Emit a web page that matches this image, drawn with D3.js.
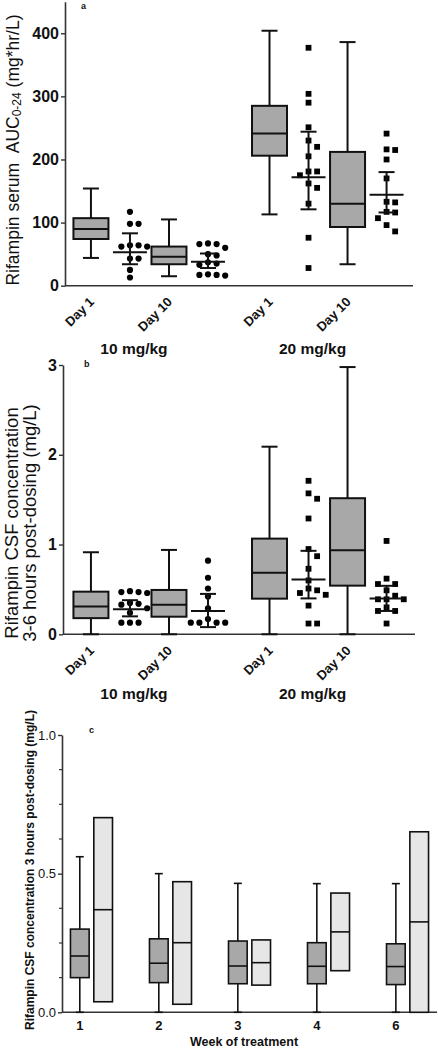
<!DOCTYPE html>
<html><head><meta charset="utf-8">
<script src="https://cdn.jsdelivr.net/npm/d3@7"></script>
<style>
body{margin:0;background:#fff}
svg{display:block}
text{font-family:"Liberation Sans",Arial,Helvetica,sans-serif;fill:#111}
</style>
</head><body>
<svg id="chart" width="438" height="1050"></svg>
<script>
// ---------- DATA ----------
const doses = ["10 mg/kg", "20 mg/kg"];
const days = ["Day 1", "Day 10"];
const slots = ["Day 1 box", "Day 1 pts", "Day 10 box", "Day 10 pts"];

// Panel a: serum AUC0-24 (mg*hr/L)
const aTicks = [0, 100, 200, 300, 400];
const aBoxLo  = [44, 15, 113, 34];     // order: 10D1, 10D10, 20D1, 20D10
const aBoxQ1  = [74, 34, 206, 93];
const aBoxMed = [90, 46, 241, 130];
const aBoxQ3  = [107, 62, 285, 212];
const aBoxHi  = [154, 105, 404, 386];
const aPts10D1  = [117, 98, 98, 64, 62, 62, 64, 43, 43, 25, 13];
const aPts10D10 = [67, 66, 66, 60, 50, 48, 37, 35, 33, 18, 17, 17, 16];
const aPts20D1  = [377, 304, 290, 251, 230, 220, 205, 181, 181, 175, 162, 155, 130, 76, 28];
const aPts20D10 = [241, 216, 215, 200, 170, 133, 132, 117, 116, 107, 96, 86];
const aMean  = [53, 38, 172, 144];
const aSdLo  = [34, 28, 121, 116];
const aSdHi  = [83, 51, 244, 180];

// Panel b: CSF concentration 3-6 h post-dosing (mg/L)
const bTicks = [0, 1, 2, 3];
const bBoxLo  = [0, 0, 0, 0];
const bBoxQ1  = [0.18, 0.196, 0.397, 0.542];
const bBoxMed = [0.31, 0.33, 0.687, 0.936];
const bBoxQ3  = [0.475, 0.494, 1.066, 1.516];
const bBoxHi  = [0.914, 0.94, 2.09, 2.977];
const bPts10D1  = [0.48, 0.47, 0.47, 0.46, 0.35, 0.34, 0.33, 0.29, 0.24, 0.13, 0.13, 0.13];
const bPts10D10 = [0.82, 0.63, 0.51, 0.42, 0.29, 0.17, 0.13, 0.13, 0.13, 0.13];
const bPts20D1  = [1.71, 1.57, 1.51, 1.29, 0.95, 0.87, 0.73, 0.60, 0.51, 0.49, 0.46, 0.44, 0.32, 0.12, 0.12];
const bPts20D10 = [1.04, 0.62, 0.56, 0.56, 0.49, 0.43, 0.39, 0.39, 0.39, 0.30, 0.26, 0.26, 0.12];
const bMean = [0.28, 0.26, 0.61, 0.40];
const bSdLo = [0.20, 0.08, 0.40, 0.26];
const bSdHi = [0.38, 0.45, 0.93, 0.54];

// Panel c: CSF concentration 3 h post-dosing by week
const weeks = ["1", "2", "3", "4", "6"];
const cTicksMajor = [0, 0.5, 1.0];
const cTicksMinor = [0.125, 0.25, 0.375, 0.625, 0.75, 0.875];
const c10Lo  = [0, 0, 0, 0, 0];
const c10Q1  = [0.125, 0.107, 0.103, 0.103, 0.100];
const c10Med = [0.203, 0.177, 0.167, 0.166, 0.165];
const c10Q3  = [0.300, 0.265, 0.257, 0.251, 0.247];
const c10Hi  = [0.561, 0.500, 0.465, 0.464, 0.464];
const c20Lo  = [0.038, 0.029, 0.098, 0.150, 0.0];
const c20Med = [0.370, 0.251, 0.179, 0.290, 0.326];
const c20Hi  = [0.702, 0.471, 0.261, 0.430, 0.651];

// ---------- DRAWING ----------
const svg = d3.select("#chart");
const DARK = "#a8a8a8", LIGHT = "#e6e6e6", AXIS = "#333";

const outer = d3.scaleBand().domain(doses).range([65, 412.5]).paddingInner(0.126).paddingOuter(0.036);
const inner = d3.scaleBand().domain(slots).range([0, outer.bandwidth()]);
const xc = (dose, slot) => outer(dose) + inner(slot) + inner.bandwidth() / 2;

function swarm(vals, y, cx, spacing, minDist) {
  const placed = [];
  vals.slice().sort((a, b) => b - a).forEach(v => {
    const py = y(v);
    for (let k = 0; k < 30; k++) {
      const off = k === 0 ? 0 : (k % 2 ? 1 : -1) * Math.ceil(k / 2) * spacing;
      if (placed.every(p => Math.hypot(p.x - (cx + off), p.y - py) >= minDist)) {
        placed.push({x: cx + off, y: py, v}); break;
      }
    }
  });
  return placed;
}

function drawBox(g, x, y, lo, q1, med, q3, hi, hw, capHw, fill, sw, whisk) {
  if (whisk) {
    g.append("line").attr("x1", x).attr("x2", x).attr("y1", y(lo)).attr("y2", y(hi))
      .attr("stroke", "#111").attr("stroke-width", sw);
    [lo, hi].forEach(v => g.append("line").attr("x1", x - capHw).attr("x2", x + capHw)
      .attr("y1", y(v)).attr("y2", y(v)).attr("stroke", "#111").attr("stroke-width", sw));
  }
  g.append("rect").attr("x", x - hw).attr("width", 2 * hw).attr("y", y(q3)).attr("height", y(q1) - y(q3))
    .attr("fill", fill).attr("stroke", "#111").attr("stroke-width", sw);
  g.append("line").attr("x1", x - hw).attr("x2", x + hw).attr("y1", y(med)).attr("y2", y(med))
    .attr("stroke", "#111").attr("stroke-width", sw);
}

function drawPts(g, vals, y, cx, shape) {
  const pts = swarm(vals, y, cx, 8.6, 7.2);
  if (shape === "circle") {
    g.selectAll(null).data(pts).enter().append("circle")
      .attr("cx", d => d.x).attr("cy", d => d.y).attr("r", 3.1).attr("fill", "#000");
  } else {
    g.selectAll(null).data(pts).enter().append("rect")
      .attr("x", d => d.x - 2.9).attr("y", d => d.y - 2.9).attr("width", 5.8).attr("height", 5.8).attr("fill", "#000");
  }
}

function drawMeanSd(g, x, y, m, lo, hi) {
  g.append("line").attr("x1", x).attr("x2", x).attr("y1", y(lo)).attr("y2", y(hi)).attr("stroke", "#111").attr("stroke-width", 2);
  [lo, hi].forEach(v => g.append("line").attr("x1", x - 8).attr("x2", x + 8).attr("y1", y(v)).attr("y2", y(v)).attr("stroke", "#111").attr("stroke-width", 2));
  g.append("line").attr("x1", x - 17).attr("x2", x + 17).attr("y1", y(m)).attr("y2", y(m)).attr("stroke", "#111").attr("stroke-width", 2);
}

function styleAxis(sel, fs, fw) {
  sel.select(".domain").attr("stroke", AXIS).attr("stroke-width", 1.6);
  sel.selectAll(".tick line").attr("stroke", AXIS).attr("stroke-width", 1.4);
  sel.selectAll(".tick text").attr("font-size", fs).attr("font-weight", fw).attr("fill", "#111")
    .style("font-family", '"Liberation Sans",Arial,sans-serif');
}

function panelAB(opts) {
  const g = svg.append("g");
  const y = d3.scaleLinear().domain(opts.domain).range(opts.range);
  const ax = g.append("g").attr("transform", `translate(${opts.axisX},0)`)
    .call(d3.axisLeft(y).tickValues(opts.ticks).tickSize(4).tickPadding(2).tickSizeOuter(0).tickFormat(d3.format("d")));
  styleAxis(ax, 16, "bold");
  g.append("line").attr("x1", opts.axisX).attr("x2", opts.xEnd).attr("y1", y(0)).attr("y2", y(0))
    .attr("stroke", AXIS).attr("stroke-width", 1.6);

  const pts = [opts.p10D1, opts.p10D10, opts.p20D1, opts.p20D10];
  let i = 0;
  doses.forEach((dose, di) => {
    days.forEach((day, dj) => {
      const bx = xc(dose, slots[dj * 2]);
      const px = xc(dose, slots[dj * 2 + 1]);
      drawBox(g, bx, y, opts.lo[i], opts.q1[i], opts.med[i], opts.q3[i], opts.hi[i], 17.5, 8, DARK, 2, true);
      drawPts(g, pts[i], y, px, di === 0 ? "circle" : "square");
      drawMeanSd(g, px, y, opts.mean[i], opts.sdLo[i], opts.sdHi[i]);
      const ly = y(0) + 17;
      g.append("text").attr("transform", `translate(${bx + 4},${ly}) rotate(-45)`)
        .attr("text-anchor", "end").attr("font-size", 13).attr("font-weight", "bold").text(day);
      i++;
    });
    const gx = (xc(dose, slots[0]) + xc(dose, slots[2])) / 2 + 4;
    g.append("text").attr("x", gx).attr("y", y(0) + opts.groupDy).attr("text-anchor", "middle")
      .attr("font-size", 15.5).attr("font-weight", "bold").text(dose);
  });
  g.append("text").attr("x", opts.letterX).attr("y", opts.letterY).attr("font-size", 9).attr("font-weight", "bold").text(opts.letter);
  return {g, y};
}

// Panel a
const pa = panelAB({
  domain: [0, 450], range: [285.7, 1.7], ticks: aTicks, axisX: 65, xEnd: 413,
  lo: aBoxLo, q1: aBoxQ1, med: aBoxMed, q3: aBoxQ3, hi: aBoxHi,
  p10D1: aPts10D1, p10D10: aPts10D10, p20D1: aPts20D1, p20D10: aPts20D10,
  mean: aMean, sdLo: aSdLo, sdHi: aSdHi, groupDy: 68, letter: "a", letterX: 81, letterY: 9
});
const aLab = pa.g.append("text").attr("transform", "translate(13,150) rotate(-90)")
  .attr("text-anchor", "middle").attr("dominant-baseline", "central").attr("font-size", 17.5);
aLab.append("tspan").text("Rifampin serum\u00a0\u00a0AUC");
aLab.append("tspan").attr("font-size", 12).attr("dy", 4).text("0-24");
aLab.append("tspan").attr("dy", -4).text(" (mg*hr/L)");

// Panel b
const pb = panelAB({
  domain: [0, 3], range: [634.3, 365], ticks: bTicks, axisX: 63, xEnd: 415,
  lo: bBoxLo, q1: bBoxQ1, med: bBoxMed, q3: bBoxQ3, hi: bBoxHi,
  p10D1: bPts10D1, p10D10: bPts10D10, p20D1: bPts20D1, p20D10: bPts20D10,
  mean: bMean, sdLo: bSdLo, sdHi: bSdHi, groupDy: 65, letter: "b", letterX: 84, letterY: 367
});
const bLab = pb.g.append("text").attr("transform", "translate(12,523) rotate(-90)")
  .attr("text-anchor", "middle").attr("font-size", 18.5);
bLab.append("tspan").attr("x", 0).attr("dy", "0.35em").text("Rifampin CSF concentration");
bLab.append("tspan").attr("x", 0).attr("dy", 17.5).text("3-6 hours post-dosing (mg/L)");

// Panel c
(function () {
  const g = svg.append("g");
  const y = d3.scaleLinear().domain([0, 1]).range([1012.3, 735]);
  const xo = d3.scaleBand().domain(weeks).range([62, 437]).paddingInner(0.468).paddingOuter(0.107);
  const xi = d3.scaleBand().domain(doses).range([0, xo.bandwidth()]).paddingInner(0.2);
  const cx = (w, d) => xo(w) + xi(d) + xi.bandwidth() / 2;

  const axY = g.append("g").attr("transform", "translate(62,0)")
    .call(d3.axisLeft(y).tickValues(cTicksMajor).tickSize(4).tickPadding(2).tickSizeOuter(0).tickFormat(d3.format(".1f")));
  styleAxis(axY, 13, "normal");
  g.append("g").attr("transform", "translate(62,0)").selectAll(null).data(cTicksMinor).enter().append("line")
    .attr("x1", -3).attr("x2", 0).attr("y1", d => y(d)).attr("y2", d => y(d)).attr("stroke", AXIS).attr("stroke-width", 1.2);

  g.append("line").attr("x1", 62).attr("x2", 437).attr("y1", y(0)).attr("y2", y(0)).attr("stroke", AXIS).attr("stroke-width", 1.6);

  weeks.forEach((w, i) => {
    const x1 = cx(w, doses[0]), x2 = cx(w, doses[1]);
    const hw = xi.bandwidth() / 2;
    drawBox(g, x1, y, c10Lo[i], c10Q1[i], c10Med[i], c10Q3[i], c10Hi[i], hw, 4, DARK, 1.6, true);
    drawBox(g, x2, y, c20Lo[i], c20Lo[i], c20Med[i], c20Hi[i], c20Hi[i], hw, 4, LIGHT, 1.6, false);
    g.append("text").attr("x", x1).attr("y", 1030).attr("text-anchor", "middle")
      .attr("font-size", 13).attr("font-weight", "bold").text(w);
  });
  g.append("text").attr("x", 244).attr("y", 1046).attr("text-anchor", "middle")
    .attr("font-size", 12.5).attr("font-weight", "bold").text("Week of treatment");
  g.append("text").attr("transform", "translate(30,870) rotate(-90)").attr("text-anchor", "middle")
    .attr("dominant-baseline", "central").attr("font-size", 12).attr("font-weight", "bold")
    .text("Rifampin CSF concentration 3 hours post-dosing (mg/L)");
  g.append("text").attr("x", 89).attr("y", 733).attr("font-size", 9).attr("font-weight", "bold").text("c");
})();
</script>
</body></html>
